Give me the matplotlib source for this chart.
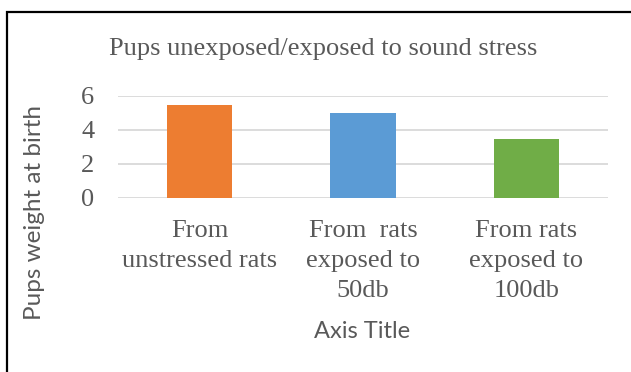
import matplotlib.pyplot as plt
from matplotlib.patches import Rectangle

# weights at birth for each group of pups
groups = ["From\nunstressed rats", "From  rats\nexposed to\n50db", "From rats\nexposed to\n100db"]
weights = [5.5, 5.0, 3.5]
bar_colors = ["#ED7D31", "#5B9BD5", "#70AD47"]
yticks = [0, 2, 4, 6]

W, H = 631, 372
fig = plt.figure(figsize=(W / 100, H / 100), dpi=100)
text_col = "#595959"
serif = "Liberation Serif"
sans = "Lato"

# outer chart frame
fig.patches.append(Rectangle((7 / W, -0.05), 1.2, 1 - 12 / H + 0.05, transform=fig.transFigure,
                             fill=False, edgecolor="black", linewidth=1.6))

ax = fig.add_axes([118 / W, 1 - 198 / H, (608 - 118) / W, (198 - 96) / H])
x = range(len(groups))
ax.bar(x, weights, width=0.4, color=bar_colors, zorder=3)
ax.set_xlim(-0.5, 2.5)
ax.set_ylim(0, 6)
ax.set_yticks(yticks)
ax.grid(axis="y", color="#D9D9D9", linewidth=1.3, zorder=0)
for s in ax.spines.values():
    s.set_visible(False)
ax.tick_params(length=0)
ax.tick_params(axis="y", pad=17, labelsize=19, labelcolor=text_col)
ax.tick_params(axis="x", pad=16, labelsize=19, labelcolor=text_col)
ax.set_xticks(list(x))
ax.set_xticklabels(groups, fontfamily=serif, linespacing=1.45)
for lab in ax.get_yticklabels():
    lab.set_fontfamily(serif)

fig.text(323 / W, 1 - 49 / H, "Pups unexposed/exposed to sound stress", ha="center", va="center",
         fontsize=19, fontfamily=serif, color=text_col)
fig.text(35 / W, 1 - 213 / H, "Pups weight at birth", rotation=90, ha="center", va="center",
         fontsize=17.5, fontfamily=sans, color=text_col)
fig.text(362 / W, 1 - 331 / H, "Axis Title", ha="center", va="center",
         fontsize=17, fontfamily=sans, color=text_col)

fig.savefig("out.png", dpi=100)
